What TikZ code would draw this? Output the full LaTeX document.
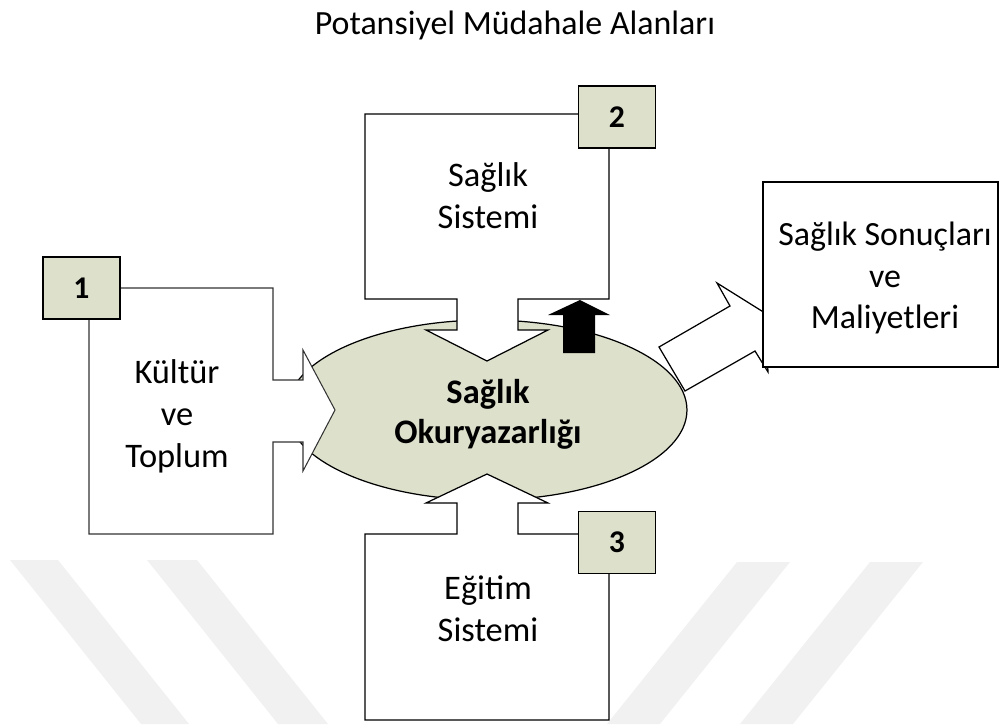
\documentclass[tikz,border=0pt]{standalone}
\usepackage{fontspec}
\setmainfont{Carlito}
\usetikzlibrary{shapes.geometric}

\definecolor{sage}{RGB}{221,224,203}
\definecolor{wmark}{RGB}{241,241,241}

\tikzset{
  callout/.style={draw=black, line width=0.7pt, fill=white, line join=miter},
  numbox/.style={draw=black, line width=0.7pt, fill=sage, minimum width=1.54cm,
    minimum height=1.24cm, inner sep=0pt, font=\fontsize{18}{21}\selectfont\bfseries},
  boxtext/.style={align=center, inner sep=0pt, font=\fontsize{19.6}{23.8}\selectfont},
}

\begin{document}
\begin{tikzpicture}[x=0.02cm,y=-0.02cm]
    \useasboundingbox (0,0) rectangle (1000,724);

    % faint watermark stripes
    \fill[wmark] (10,560) -- (58,560) -- (189,724) -- (141,724) -- cycle;
    \fill[wmark] (147,560) -- (197,560) -- (328,724) -- (278,724) -- cycle;
    \fill[wmark] (737,562) -- (790,562) -- (660,724) -- (607,724) -- cycle;
    \fill[wmark] (870,562) -- (923,562) -- (793,724) -- (740,724) -- cycle;

    \node[font=\fontsize{19.3}{23}\selectfont] (title) at (515,25) {Potansiyel Müdahale Alanları};

    % block arrow towards the outcomes
    \draw[callout] (659,347) -- (730,306) -- (717,283) -- (765,313)
      -- (768,372) -- (755,351) -- (685,391) -- cycle;

    \node[ellipse, draw=black, line width=0.7pt, fill=sage, minimum width=8cm,
      minimum height=3.6cm, inner sep=0pt] (sok) at (487,410) {};
    \node[boxtext, font=\fontsize{19.6}{22.7}\selectfont\bfseries] (soktext) at (488,414)
      {Sağlık\\Okuryazarlığı};

    % the three areas, each with its arrow into the ellipse
    \draw[callout] (365,114) -- (609,114) -- (609,299) -- (518,299) -- (518,330)
      -- (548,330) -- (487,361) -- (426,330) -- (457,330) -- (457,299)
      -- (365,299) -- cycle;
    \draw[callout] (365,720) -- (609,720) -- (609,534) -- (518,534) -- (518,503)
      -- (548,503) -- (487,474) -- (426,503) -- (457,503) -- (457,534)
      -- (365,534) -- cycle;
    \draw[callout, draw=black!80, line width=0.6pt] (89,288) -- (273,288) -- (273,380)
      -- (303,380) -- (303,350) -- (335,410) -- (303,471) -- (303,442) -- (273,442)
      -- (273,534) -- (89,534) -- cycle;

    \node[boxtext] (sistem) at (488,196) {Sağlık\\Sistemi};
    \node[boxtext] (egitim) at (488,609) {Eğitim\\Sistemi};
    \node[boxtext] (kultur) at (177,416) {Kültür\\ve\\Toplum};

    % black arrow up
    \fill[black] (563,353) -- (563,315) -- (548,315) -- (580,300) -- (610,315)
      -- (595,315) -- (595,353) -- cycle;

    \node[numbox] (n1) at (81.5,288) {1};
    \node[numbox] (n2) at (617,117) {2};
    \node[numbox] (n3) at (617,542.5) {3};

    \node[draw=black, line width=0.7pt, fill=white, minimum width=4.7cm,
      minimum height=3.7cm, inner sep=0pt] (sonuc) at (880.5,274.5) {};
    \node[boxtext, font=\fontsize{19.3}{23.8}\selectfont] (sonuctext) at (885,278)
      {Sağlık Sonuçları\\ve\\Maliyetleri};

  \end{tikzpicture}
\end{document}
